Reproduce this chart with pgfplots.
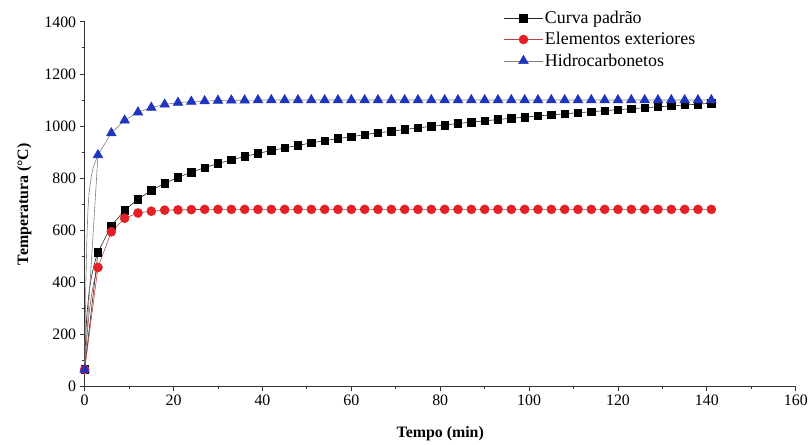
\documentclass[border=0pt]{standalone}
\usepackage{fontspec}
\setmainfont{Liberation Serif}
\usepackage{pgfplots}
\pgfplotsset{compat=1.18}
\definecolor{mred}{RGB}{228,32,38}
\definecolor{mblue}{RGB}{32,52,190}
\begin{document}
\begin{tikzpicture}
\begin{axis}[
 scale only axis, width=714bp, height=366bp,
 xmin=0, xmax=160, ymin=0, ymax=1400,
 axis x line*=bottom, axis y line*=left,
 axis line style={-, line width=0.9bp, color=black!80},
 xtick={0,20,...,160}, ytick={0,200,...,1400},
 minor x tick num=1, minor y tick num=1,
 tick align=outside, major tick length=5bp, minor tick length=3bp,
 every tick/.style={line width=0.9bp, black!80},
 ticklabel style={font=\fontsize{16}{19}\selectfont},
 /pgf/number format/assume math mode=true,
 /pgf/number format/1000 sep={},
 xlabel={\textbf{Tempo (min)}}, ylabel={\textbf{Temperatura (°C)}},
 every axis x label/.style={at={(axis description cs:0.5,-0.13)}, anchor=center, font=\fontsize{16}{19}\selectfont},
 every axis y label/.style={at={(axis description cs:-0.085,0.5)}, anchor=center, rotate=90, font=\fontsize{16}{19}\selectfont},
 clip=false,
 legend style={draw=none, fill=none, at={(rel axis cs:0.588,1.038)}, anchor=north west,
   font=\fontsize{18}{21}\selectfont, row sep=3.5bp, inner sep=1bp},
 legend cell align=left,
 legend image code/.code={\draw[mark repeat=2,mark phase=2] plot coordinates {(0cm,0cm) (0.68cm,0cm) (1.36cm,0cm)};},
]
% initial line segments
\addplot[forget plot, black!85, line width=0.6bp] coordinates {(0,65) (0.25,198) (0.5,275) (1,363) (1.5,418) (2,458) (2.5,490) (3,516)};
\addplot[forget plot, red!45!gray, line width=0.6bp] coordinates {(0,65) (0.5,190) (1,280) (1.5,345) (2,395) (2.5,430) (3,457)};
\addplot[forget plot, gray, line width=0.6bp] coordinates {(0,65) (0.25,373) (0.5,568) (0.75,680) (1,745) (1.5,808) (2,845) (2.5,867) (3,889)};
% Curva padrao
\addplot[black!85, line width=0.6bp, mark=square*, mark size=3.8bp, mark options={solid, fill=black, draw=black}] coordinates {
(0,65) (3,516) (6,617) (9,677) (12,719) (15,753) (18,780) (21,803) (24,823) (27,840) (30,856) (33,870) (36,883) (39,895) (42,906) (45,916) (48,926) (51,935) (54,944) (57,952) (60,959) (63,967) (66,974) (69,980) (72,987) (75,993) (78,999) (81,1004) (84,1010) (87,1015) (90,1020) (93,1025) (96,1030) (99,1034) (102,1039) (105,1043) (108,1047) (111,1051) (114,1055) (117,1059) (120,1063) (123,1067) (126,1070) (129,1074) (132,1077) (135,1081) (138,1084) (141,1088)};
\addlegendentry{Curva padrão}
% Elementos exteriores
\addplot[red!45!gray, line width=0.6bp, mark=*, mark size=4.5bp, mark options={solid, fill=mred, draw=mred}] coordinates {
(0,65) (3,457) (6,594) (9,646) (12,666) (15,673) (18,677) (21,678) (24,679) (27,680) (30,680) (33,680) (36,680) (39,680) (42,680) (45,680) (48,680) (51,680) (54,680) (57,680) (60,680) (63,680) (66,680) (69,680) (72,680) (75,680) (78,680) (81,680) (84,680) (87,680) (90,680) (93,680) (96,680) (99,680) (102,680) (105,680) (108,680) (111,680) (114,680) (117,680) (120,680) (123,680) (126,680) (129,680) (132,680) (135,680) (138,680) (141,680)};
\addlegendentry{Elementos exteriores}
% Hidrocarbonetos
\addplot[gray, line width=0.6bp, mark=triangle*, mark size=5.5bp, mark options={solid, fill=mblue, draw=mblue}] coordinates {
(0,65) (3,889) (6,973) (9,1022) (12,1053) (15,1071) (18,1083) (21,1090) (24,1094) (27,1096) (30,1098) (33,1099) (36,1099) (39,1100) (42,1100) (45,1100) (48,1100) (51,1100) (54,1100) (57,1100) (60,1100) (63,1100) (66,1100) (69,1100) (72,1100) (75,1100) (78,1100) (81,1100) (84,1100) (87,1100) (90,1100) (93,1100) (96,1100) (99,1100) (102,1100) (105,1100) (108,1100) (111,1100) (114,1100) (117,1100) (120,1100) (123,1100) (126,1100) (129,1100) (132,1100) (135,1100) (138,1100) (141,1100)};
\addlegendentry{Hidrocarbonetos}
\end{axis}
\path ([shift={(-85bp,-53bp)}]current axis.south west) rectangle ([shift={(12bp,22bp)}]current axis.north east);
\end{tikzpicture}
\end{document}
